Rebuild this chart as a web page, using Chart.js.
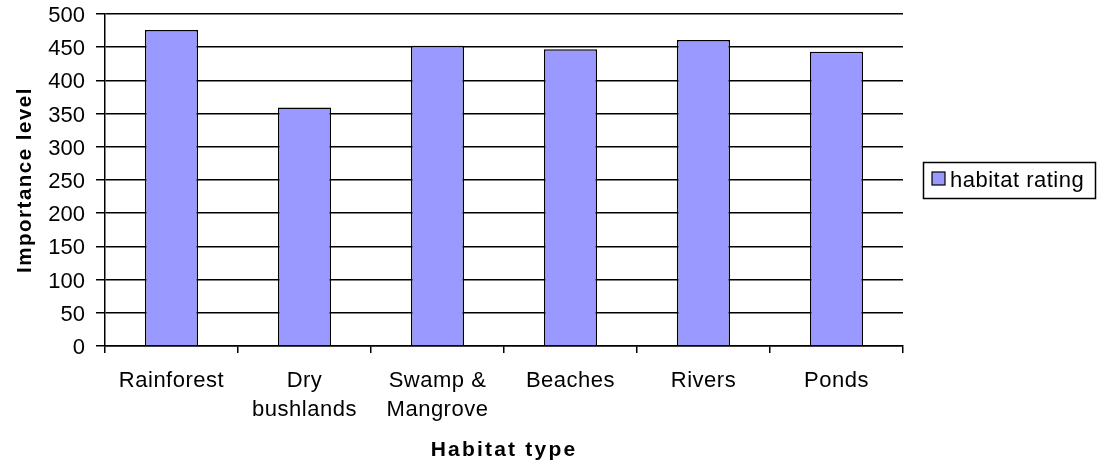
<!DOCTYPE html>
<html>
<head>
<meta charset="utf-8">
<script src="https://cdn.jsdelivr.net/npm/chart.js@4/dist/chart.umd.min.js"></script>
<style>
  html, body { margin: 0; padding: 0; background: #ffffff; }
  #wrap { width: 1097px; height: 469px; }
</style>
</head>
<body>
<div id="wrap"><canvas id="c" width="1097" height="469"></canvas></div>
<script>
// ---- data ----
const categories = [['Rainforest'], ['Dry', 'bushlands'], ['Swamp &', 'Mangrove'], ['Beaches'], ['Rivers'], ['Ponds']];
const habitatRating = [476, 359, 452, 447, 461, 443];
const seriesName = 'habitat rating';
const yTicks = [0, 50, 100, 150, 200, 250, 300, 350, 400, 450, 500];
const xTitle = 'Habitat type';
const yTitle = 'Importance level';

const FONT = '"Liberation Sans", Arial, sans-serif';
const BAR_COLOR = '#9999FF';

// letter spacing for axis titles / labels (reference text is rendered slightly wide)
const spacingPlugin = {
  id: 'spacing',
  beforeDraw(chart) {
    const cfg = { x: { title: '2.2px', labels: '0.5px' }, y: { title: '1.5px', labels: '0px' } };
    for (const id of Object.keys(cfg)) {
      const s = chart.scales[id];
      if (!s || s._spPatched) continue;
      const dt = s.drawTitle, dl = s.drawLabels;
      s.drawTitle = function (...a) { const c = this.ctx; c.save(); c.letterSpacing = cfg[id].title; dt.apply(this, a); c.restore(); };
      s.drawLabels = function (...a) { const c = this.ctx; c.save(); c.letterSpacing = cfg[id].labels; dl.apply(this, a); c.restore(); };
      s._spPatched = true;
    }
  }
};

// Excel-style boxed legend on the right
const boxLegend = {
  id: 'boxLegend',
  afterDraw(chart) {
    const ctx = chart.ctx;
    const ds = chart.data.datasets[0];
    ctx.save();
    ctx.strokeStyle = '#000';
    ctx.lineWidth = 1.5;
    ctx.strokeRect(923.5, 162.5, 172, 36);
    ctx.fillStyle = ds.backgroundColor;
    ctx.fillRect(932, 172, 13, 13);
    ctx.lineWidth = 1.2;
    ctx.strokeRect(932, 172, 13, 13);
    ctx.fillStyle = '#000';
    ctx.font = '22px ' + FONT;
    ctx.letterSpacing = '0.5px';
    ctx.textBaseline = 'alphabetic';
    ctx.textAlign = 'left';
    ctx.fillText(ds.label, 950, 187);
    ctx.restore();
  }
};

new Chart(document.getElementById('c'), {
  type: 'bar',
  data: {
    labels: categories,
    datasets: [{
      label: seriesName,
      data: habitatRating,
      backgroundColor: BAR_COLOR,
      borderColor: '#000000',
      borderWidth: 1.5,
      barPercentage: 0.4,
      categoryPercentage: 1.0
    }]
  },
  options: {
    responsive: false,
    animation: false,
    devicePixelRatio: 1,
    layout: { padding: { top: 14, right: 194, left: 0, bottom: 0 } },
    plugins: {
      legend: { display: false },
      tooltip: { enabled: false }
    },
    scales: {
      x: {
        offset: true,
        grid: { display: true, drawOnChartArea: false, drawTicks: true, tickLength: 7, color: '#000', lineWidth: 1.5 },
        border: { display: true, color: '#000', width: 1.5 },
        ticks: { color: '#000', font: { family: FONT, size: 22, lineHeight: 1.32 }, padding: 13, maxRotation: 0, autoSkip: false },
        title: { display: true, text: xTitle, color: '#000', font: { family: FONT, size: 21, weight: 'bold', lineHeight: 1.2 }, padding: { top: 0, bottom: 6 } },
        afterFit(s) { s.height = 123; }
      },
      y: {
        min: 0,
        max: 500,
        grid: { color: '#000', lineWidth: 1.5, tickLength: 9, drawTicks: true },
        border: { display: true, color: '#000', width: 1.5 },
        afterBuildTicks(s) { s.ticks = yTicks.map(v => ({ value: v })); },
        ticks: { color: '#000', font: { family: FONT, size: 22, lineHeight: 0.2 }, padding: 11, labelOffset: 2 },
        title: { display: true, text: yTitle, color: '#000', font: { family: FONT, size: 20.5, weight: 'bold', lineHeight: 1.2 }, padding: { top: 13, bottom: 0 } },
        afterFit(s) { s.width = 105; }
      }
    }
  },
  plugins: [spacingPlugin, boxLegend]
});
</script>
</body>
</html>
